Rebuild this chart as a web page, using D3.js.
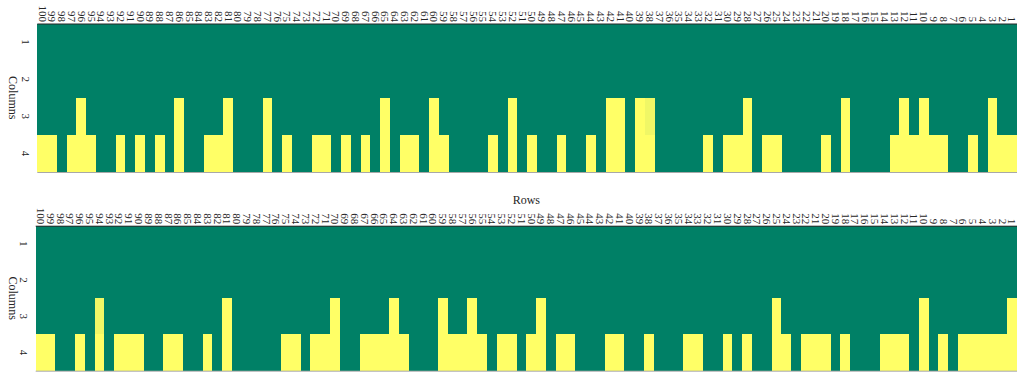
<!DOCTYPE html>
<html>
	<head>
		<title>Heatmaps</title>
		<style>
			body, html { margin: 0; padding: 0; background: #fff; }
		</style>
	</head>
	<body>

		<svg id="svg" width="1017" height="376"></svg>

		<script src="https://d3js.org/d3.v7.min.js"></script>
		<script>
			// Row labels along the top, left to right
			const rowLabels = [100,99,98,97,96,95,94,93,92,91,90,89,88,87,86,85,84,83,82,81,
				80,79,78,77,76,75,74,73,72,71,70,69,68,67,66,65,64,63,62,61,
				60,59,58,57,56,55,54,53,52,51,50,49,48,47,46,45,44,43,42,41,
				40,39,38,37,36,35,34,33,32,31,30,29,28,27,26,25,24,23,22,21,
				20,19,18,17,16,15,14,13,12,11,10,9,8,7,6,5,4,3,2,1]
			const columnLabels = [1, 2, 3, 4]

			// Columns 1 and 2 are empty in both maps
			const blankColumn = [0,0,0,0,0,0,0,0,0,0, 0,0,0,0,0,0,0,0,0,0,
				0,0,0,0,0,0,0,0,0,0, 0,0,0,0,0,0,0,0,0,0, 0,0,0,0,0,0,0,0,0,0,
				0,0,0,0,0,0,0,0,0,0, 0,0,0,0,0,0,0,0,0,0, 0,0,0,0,0,0,0,0,0,0,
				0,0,0,0,0,0,0,0,0,0, 0,0,0,0,0,0,0,0,0,0]

			// Top map, one value per row label (100 -> 1)
			const topCol3 = [0,0,0,0,1,0,0,0,0,0, 0,0,0,0,1,0,0,0,0,1,
				0,0,0,1,0,0,0,0,0,0, 0,0,0,0,0,1,0,0,0,0, 1,0,0,0,0,0,0,0,1,0,
				0,0,0,0,0,0,0,0,1,1, 0,1,0.94,0,0,0,0,0,0,0, 0,0,1,0,0,0,0,0,0,0,
				0,0,1,0,0,0,0,0,1,0, 1,0,0,0,0,0,0,1,0,0]
			const topCol4 = [1,1,0,1,1,1,0,0,1,0, 1,0,1,0,1,0,0,1,1,1,
				0,0,0,1,0,1,0,0,1,1, 0,1,0,1,0,1,0,1,1,0, 1,1,0,0,0,0,1,0,1,0,
				1,0,0,1,0,0,1,0,1,1, 0,1,1,0,0,0,0,0,1,0, 1,1,1,0,1,1,0,0,0,0,
				1,0,1,0,0,0,0,1,1,1, 1,1,1,0,0,1,0,1,1,1]

			// Bottom map
			const bottomCol3 = [0,0,0,0,0,0,0.94,0,0,0, 0,0,0,0,0,0,0,0,0,1,
				0,0,0,0,0,0,0,0,0,0, 1,0,0,0,0,0,1,0,0,0, 0,1,0,0,1,0,0,0,0,0,
				0,1,0,0,0,0,0,0,0,0, 0,0,0,0,0,0,0,0,0,0, 0,0,0,0,0,1,0,0,0,0,
				0,0,0,0,0,0,0,0,0,0, 1,0,0,0,0,0,0,0,0,1]
			const bottomCol4 = [1,1,0,0,1,0,1,0,1,1, 1,0,0,1,1,0,0,1,0,1,
				0,0,0,0,0,1,1,0,1,1, 1,0,0,1,1,1,1,1,0,0, 0,1,1,1,1,1,0,1,1,0,
				1,1,0,1,1,0,0,0,1,1, 0,0,1,0,0,0,1,1,0,0, 1,0,1,0,0,1,1,0,1,1,
				1,0,1,0,0,0,1,1,1,0, 1,0,1,0,1,1,1,1,1,1]

			const svg = d3.select('#svg')
			const font = '"Liberation Serif", "Times New Roman", serif'
			const textColor = '#262626'

			// summer colormap ends
			const colorScale = d3.scaleLinear()
				.domain([0, 1])
				.range(['#008066', '#ffff66'])

			function drawMap(columns, box, withTitle) {
				const x = d3.scaleBand()
					.domain(rowLabels)
					.range([box.left, box.right])
				const y = d3.scaleBand()
					.domain(columnLabels)
					.range([box.top, box.bottom])

				// flatten into cells
				const cells = []
				columns.forEach((values, c) => {
					values.forEach((v, r) => {
						cells.push({ row: rowLabels[r], col: columnLabels[c], value: v })
					})
				})

				const g = svg.append('g')

				g.selectAll('rect.cell')
					.data(cells)
					.join('rect')
					.attr('class', 'cell')
					.attr('x', d => x(d.row))
					.attr('y', d => y(d.col))
					.attr('width', x.bandwidth())
					.attr('height', y.bandwidth())
					.attr('fill', d => colorScale(d.value))
					.attr('shape-rendering', 'crispEdges')

				// frame lines
				g.append('line')
					.attr('x1', box.left).attr('x2', box.right)
					.attr('y1', box.top + 0.5).attr('y2', box.top + 0.5)
					.attr('stroke', '#262626')
				g.append('line')
					.attr('x1', box.left).attr('x2', box.right)
					.attr('y1', box.bottom + 0.5).attr('y2', box.bottom + 0.5)
					.attr('stroke', '#a8a8a8')

				// top axis with vertical labels
				const xAxis = g.append('g')
					.attr('transform', `translate(0, ${box.top})`)
					.call(d3.axisTop(x).tickSize(0))
				xAxis.select('.domain').remove()
				xAxis.selectAll('text')
					.attr('transform', 'rotate(90)')
					.attr('x', -1.5)
					.attr('y', 0)
					.attr('dy', '0.33em')
					.attr('text-anchor', 'end')
					.attr('font-family', font)
					.attr('font-size', 11)
					.attr('fill', textColor)

				// left axis, also rotated
				const yAxis = g.append('g')
					.attr('transform', `translate(${box.left}, 0)`)
					.call(d3.axisLeft(y).tickSize(0))
				yAxis.select('.domain').remove()
				yAxis.selectAll('text')
					.attr('transform', 'rotate(90)')
					.attr('x', 0)
					.attr('y', 12)
					.attr('dy', '0.33em')
					.attr('text-anchor', 'middle')
					.attr('font-family', font)
					.attr('font-size', 11)
					.attr('fill', textColor)

				g.append('text')
					.attr('transform', `translate(13, ${(box.top + box.bottom) / 2}) rotate(90)`)
					.attr('dy', '0.33em')
					.attr('text-anchor', 'middle')
					.attr('font-family', font)
					.attr('font-size', 12)
					.attr('fill', textColor)
					.text('Columns')

				if (withTitle) {
					g.append('text')
						.attr('x', (box.left + box.right) / 2)
						.attr('y', box.top - 22)
						.attr('text-anchor', 'middle')
						.attr('font-family', font)
						.attr('font-size', 12)
						.attr('fill', textColor)
						.text('Rows')
				}
			}

			drawMap([blankColumn, blankColumn, topCol3, topCol4],
				{ left: 37.3, right: 1017, top: 23.5, bottom: 172 }, false)
			drawMap([blankColumn, blankColumn, bottomCol3, bottomCol4],
				{ left: 35.7, right: 1017, top: 225.7, bottom: 370.7 }, true)
		</script>
	</body>
</html>
